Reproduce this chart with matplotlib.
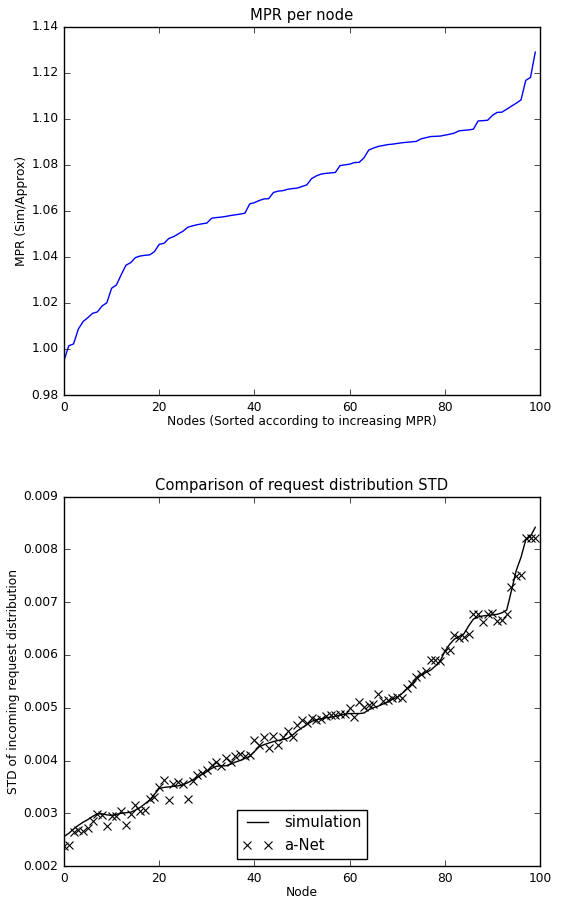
import matplotlib
matplotlib.use("Agg")
import matplotlib.pyplot as plt
import numpy as np

# ---- data ----
mpr = [0.9950, 1.0014, 1.0022, 1.0086, 1.0119, 1.0136, 1.0155, 1.0161, 1.0187, 1.0201,
       1.0264, 1.0278, 1.0322, 1.0364, 1.0375, 1.0397, 1.0404, 1.0407, 1.0409, 1.0423,
       1.0455, 1.0459, 1.0480, 1.0488, 1.0500, 1.0512, 1.0529, 1.0535, 1.0540, 1.0544,
       1.0547, 1.0568, 1.0571, 1.0573, 1.0576, 1.0580, 1.0583, 1.0586, 1.0590, 1.0630,
       1.0636, 1.0645, 1.0652, 1.0653, 1.0680, 1.0686, 1.0688, 1.0694, 1.0697, 1.0699,
       1.0706, 1.0713, 1.0740, 1.0752, 1.0760, 1.0763, 1.0765, 1.0767, 1.0797, 1.0800,
       1.0803, 1.0810, 1.0811, 1.0830, 1.0864, 1.0873, 1.0880, 1.0884, 1.0888, 1.0890,
       1.0893, 1.0896, 1.0898, 1.0900, 1.0902, 1.0913, 1.0918, 1.0923, 1.0924, 1.0925,
       1.0929, 1.0933, 1.0938, 1.0948, 1.0950, 1.0952, 1.0955, 1.0991, 1.0992, 1.0994,
       1.1015, 1.1028, 1.1029, 1.1042, 1.1055, 1.1068, 1.1082, 1.1167, 1.1180, 1.1290]

simulation = [0.00256, 0.00262, 0.00270, 0.00277, 0.00283, 0.00288, 0.00294, 0.00299, 0.00299, 0.00297,
              0.00296, 0.00298, 0.00300, 0.00301, 0.00302, 0.00306, 0.00311, 0.00318, 0.00325, 0.00336,
              0.00347, 0.00349, 0.00350, 0.00351, 0.00352, 0.00354, 0.00358, 0.00363, 0.00368, 0.00374,
              0.00379, 0.00385, 0.00389, 0.00390, 0.00390, 0.00393, 0.00397, 0.00400, 0.00404, 0.00408,
              0.00417, 0.00426, 0.00430, 0.00433, 0.00436, 0.00438, 0.00440, 0.00442, 0.00448, 0.00456,
              0.00462, 0.00468, 0.00474, 0.00477, 0.00479, 0.00481, 0.00482, 0.00484, 0.00486, 0.00488,
              0.00489, 0.00489, 0.00489, 0.00490, 0.00496, 0.00500, 0.00503, 0.00507, 0.00511, 0.00516,
              0.00520, 0.00527, 0.00536, 0.00545, 0.00554, 0.00562, 0.00567, 0.00571, 0.00579, 0.00588,
              0.00607, 0.00620, 0.00630, 0.00635, 0.00640, 0.00655, 0.00668, 0.00672, 0.00674, 0.00675,
              0.00676, 0.00677, 0.00680, 0.00685, 0.00722, 0.00760, 0.00785, 0.00818, 0.00825, 0.00842]

anet = [0.00238, 0.00240, 0.00265, 0.00268, 0.00266, 0.00272, 0.00285, 0.00298, 0.00297, 0.00275,
        0.00294, 0.00294, 0.00304, 0.00278, 0.00298, 0.00316, 0.00304, 0.00306, 0.00327, 0.00330,
        0.00349, 0.00363, 0.00326, 0.00355, 0.00359, 0.00356, 0.00327, 0.00361, 0.00373, 0.00376,
        0.00382, 0.00392, 0.00398, 0.00389, 0.00404, 0.00398, 0.00409, 0.00412, 0.00409, 0.00411,
        0.00439, 0.00430, 0.00444, 0.00423, 0.00447, 0.00430, 0.00445, 0.00455, 0.00445, 0.00468,
        0.00477, 0.00472, 0.00480, 0.00477, 0.00478, 0.00484, 0.00487, 0.00487, 0.00489, 0.00488,
        0.00499, 0.00482, 0.00511, 0.00502, 0.00506, 0.00508, 0.00526, 0.00512, 0.00515, 0.00518,
        0.00521, 0.00518, 0.00537, 0.00545, 0.00559, 0.00563, 0.00569, 0.00591, 0.00590, 0.00588,
        0.00607, 0.00610, 0.00637, 0.00632, 0.00634, 0.00640, 0.00677, 0.00677, 0.00663, 0.00678,
        0.00679, 0.00664, 0.00667, 0.00678, 0.00728, 0.00749, 0.00752, 0.00821, 0.00822, 0.00821]

nodes = np.arange(len(mpr))

plt.style.use("classic")
plt.rcParams["font.family"] = ["DejaVu Sans"]
plt.rcParams["font.size"] = 8.8
plt.rcParams["legend.fontsize"] = 10.6

fig = plt.figure(figsize=(5.65, 8.98), dpi=100, facecolor="white")

ax1 = fig.add_axes([0.1133, 0.5601, 0.8425, 0.4101])
ax1.plot(nodes, mpr, color="b", lw=1.0)
ax1.set_xlim(0, 100)
ax1.set_ylim(0.98, 1.14)
ax1.set_title("MPR per node", fontsize=10.6)
ax1.set_xlabel("Nodes (Sorted according to increasing MPR)", labelpad=1)
ax1.set_ylabel("MPR (Sim/Approx)", labelpad=2.5)
ax1.set_facecolor("white")

ax2 = fig.add_axes([0.1133, 0.0356, 0.8425, 0.4113])
ax2.plot(nodes, simulation, color="k", lw=1.0, label="simulation")
ax2.plot(nodes, anet, linestyle="none", marker="x", color="k", mec="k",
         markersize=5.5, mew=0.8, label="a-Net")
ax2.set_xlim(0, 100)
ax2.set_ylim(0.002, 0.009)
ax2.set_title("Comparison of request distribution STD", fontsize=10.6)
ax2.set_xlabel("Node", labelpad=1)
ax2.set_ylabel("STD of incoming request distribution", labelpad=2.5)
ax2.set_facecolor("white")
ax2.legend(loc="lower center", numpoints=2, fancybox=False)

fig.savefig("out.png", dpi=100, facecolor="white")
